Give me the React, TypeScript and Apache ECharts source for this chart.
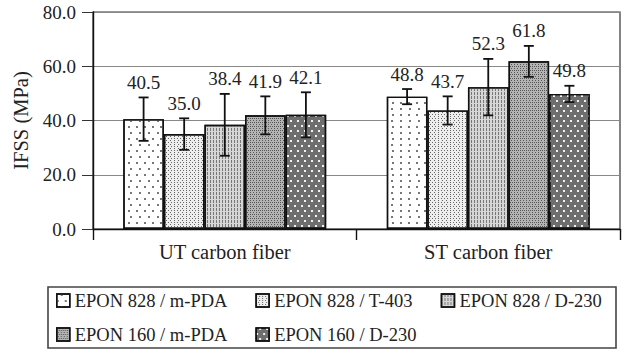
import { useEffect, useRef } from "react";
import * as echarts from "echarts";

const categories = ["UT carbon fiber", "ST carbon fiber"];
const seriesNames = [
  "EPON 828 / m-PDA",
  "EPON 828 / T-403",
  "EPON 828 / D-230",
  "EPON 160 / m-PDA",
  "EPON 160 / D-230",
];
const ep828mPDA = [40.5, 48.8];
const ep828T403 = [35.0, 43.7];
const ep828D230 = [38.4, 52.3];
const ep160mPDA = [41.9, 61.8];
const ep160D230 = [42.1, 49.8];
const err828mPDA = [8.0, 2.8];
const err828T403 = [5.8, 5.2];
const err828D230 = [11.4, 10.4];
const err160mPDA = [7.0, 5.7];
const err160D230 = [8.3, 3.0];
const yMin = 0;
const yMax = 80;
const yStep = 20;

const values = [ep828mPDA, ep828T403, ep828D230, ep160mPDA, ep160D230];
const errors = [err828mPDA, err828T403, err828D230, err160mPDA, err160D230];

const FONT = "Liberation Serif";
const CAT_GAP = 0.23;

const fills = ["#ffffff", "#eeeeee", "#d6d6d6", "#b4b4b4", "#6e6e6e"];
const decals: any[] = [
  {
    symbol: "rect",
    symbolSize: 1,
    color: "#777",
    dashArrayX: [[1.2, 5.8], [0, 3.5, 1.2, 2.3]],
    dashArrayY: [1.2, 3.3],
  },
  {
    symbol: "rect",
    symbolSize: 1,
    color: "#666",
    dashArrayX: [[1, 1.4], [0, 1.2, 1, 0.2]],
    dashArrayY: [1, 0.9],
  },
  {
    symbol: "rect",
    symbolSize: 1,
    color: "#777",
    dashArrayX: [1, 1.3],
    dashArrayY: [2.5, 0.8],
  },
  {
    symbol: "rect",
    symbolSize: 1,
    color: "#555",
    dashArrayX: [[1, 1], [0, 1, 1, 0.001]],
    dashArrayY: [1, 0.6],
  },
  {
    symbol: "rect",
    symbolSize: 1,
    color: "#f2f2f2",
    dashArrayX: [[1.2, 4.8], [0, 3, 1.2, 1.8]],
    dashArrayY: [1.2, 2.6],
  },
];

export default function App() {
  const ref = useRef<HTMLDivElement>(null);
  useEffect(() => {
    if (!ref.current) return;
    const chart = echarts.init(ref.current, undefined, { renderer: "svg" });

    const barSeries = seriesNames.map((name, i) => ({
      type: "bar",
      name,
      data: values[i],
      barGap: "0%",
      barCategoryGap: CAT_GAP * 100 + "%",
      itemStyle: {
        color: fills[i],
        borderColor: "#111",
        borderWidth: 1.4,
        decal: decals[i],
      },
      z: 2,
    }));

    const errData: number[][] = [];
    values.forEach((arr, si) =>
      arr.forEach((v, ci) => errData.push([ci, si, v, errors[si][ci]]))
    );

    const errSeries = {
      type: "custom",
      name: "err",
      data: errData,
      encode: { x: 0, y: 2 },
      z: 5,
      clip: false,
      renderItem: (params: any, api: any) => {
        const cat = api.value(0);
        const si = api.value(1);
        const v = api.value(2);
        const e = api.value(3);
        const band = api.size([1, 0])[0];
        const bw = (band * (1 - CAT_GAP)) / seriesNames.length;
        const cx = api.coord([cat, 0])[0] + (si - (seriesNames.length - 1) / 2) * bw;
        const yTop = api.coord([cat, v + e])[1];
        const yBot = api.coord([cat, v - e])[1];
        const cap = 5;
        const ls = { stroke: "#111", lineWidth: 1.8 };
        return {
          type: "group",
          children: [
            { type: "line", shape: { x1: cx, y1: yTop, x2: cx, y2: yBot }, style: ls },
            { type: "line", shape: { x1: cx - cap, y1: yTop, x2: cx + cap, y2: yTop }, style: ls },
            { type: "line", shape: { x1: cx - cap, y1: yBot, x2: cx + cap, y2: yBot }, style: ls },
            {
              type: "text",
              x: cx,
              y: yTop - 15,
              style: {
                text: v.toFixed(1),
                fill: "#222",
                fontFamily: FONT,
                fontSize: 19,
                align: "center",
                verticalAlign: "middle",
              },
            },
          ],
        };
      },
    };

    const legendCommon = {
      orient: "horizontal",
      left: 56,
      padding: 0,
      itemGap: 28,
      itemWidth: 13,
      itemHeight: 13,
      icon: "rect",
      selectedMode: false,
      textStyle: { fontFamily: FONT, fontSize: 18.5, color: "#222" },
      itemStyle: { borderColor: "#111", borderWidth: 1.5 },
    };

    chart.setOption({
      animation: false,
      textStyle: { fontFamily: FONT },
      grid: {
        left: 93,
        right: 6,
        top: 12,
        bottom: 121,
        show: true,
        borderColor: "#333",
        borderWidth: 1.2,
        backgroundColor: "transparent",
      },
      legend: [
        { ...legendCommon, top: 291, data: seriesNames.slice(0, 3) },
        { ...legendCommon, top: 325, data: seriesNames.slice(3) },
      ],
      xAxis: {
        type: "category",
        data: categories,
        axisLine: { lineStyle: { color: "#111", width: 1.4 } },
        axisTick: { show: true, length: 11, lineStyle: { color: "#111", width: 1.4 } },
        axisLabel: { fontSize: 20.5, color: "#222", margin: 12, fontFamily: FONT },
      },
      yAxis: {
        type: "value",
        min: yMin,
        max: yMax,
        interval: yStep,
        name: "IFSS (MPa)",
        nameLocation: "middle",
        nameGap: 62,
        nameTextStyle: { fontSize: 20.5, color: "#222", fontFamily: FONT },
        axisLine: { show: true, lineStyle: { color: "#111", width: 1.4 } },
        axisTick: { show: true, length: 11, lineStyle: { color: "#333", width: 1 } },
        axisLabel: {
          fontSize: 19,
          color: "#222",
          margin: 17,
          fontFamily: FONT,
          formatter: (v: number) => v.toFixed(1),
        },
        splitLine: { show: true, lineStyle: { color: "#888", width: 1 } },
      },
      graphic: [
        {
          type: "rect",
          shape: { x: 48, y: 287, width: 568, height: 61 },
          style: { fill: "none", stroke: "#444", lineWidth: 1.6 },
          silent: true,
        },
      ],
      series: [...barSeries, errSeries],
    });
    return () => chart.dispose();
  }, []);
  return (
    <div
      ref={ref}
      style={{ position: "absolute", left: 0, top: 0, width: 626, height: 350, background: "#fff" }}
    />
  );
}
